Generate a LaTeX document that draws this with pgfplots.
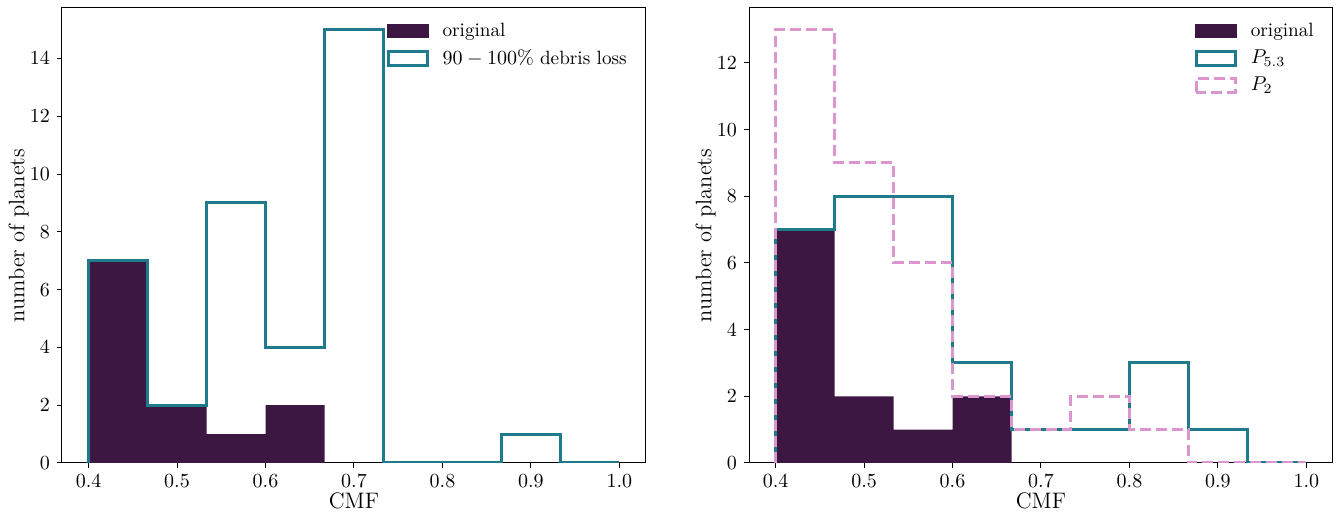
\documentclass[border=0pt]{standalone}
\usepackage{pgfplots}
\pgfplotsset{compat=1.18}

\definecolor{orig}{HTML}{3C1742}
\definecolor{tealc}{HTML}{1F7A8C}
\definecolor{pinkc}{HTML}{DA96CD}

\pgfplotsset{
  histax/.style={
    scale only axis,
    width=292pt, height=227.5pt,
    xmin=0.37, xmax=1.03, ymin=0,
    xtick={0.4,0.5,0.6,0.7,0.8,0.9,1.0},
    xticklabel style={/pgf/number format/.cd, fixed, fixed zerofill, precision=1},
    tick align=outside, tick pos=left,
    major tick length=2.5pt,
    every tick/.style={black, line width=0.5pt},
    axis line style={black, line width=0.5pt},
    ticklabel style={font=\fontsize{9.8}{11}\selectfont},
    label style={font=\fontsize{11.2}{13}\selectfont},
    xlabel={CMF},
    ylabel={number of planets},
    xlabel style={at={(axis description cs:0.5,-0.084)}, anchor=center},
    ylabel style={at={(axis description cs:-0.074,0.5)}, anchor=center},
    legend style={draw=none, fill=none, font=\fontsize{9.6}{11}\selectfont,
      at={(0.985,0.985)}, anchor=north east, row sep=1.2pt},
    legend cell align=left,
  },
  % legend symbols: 21pt wide boxes, plus a gap before the text
  origleg/.style={legend image code/.code={
    \fill[orig] (0pt,-3.5pt) rectangle (21pt,3.5pt);
    \path[draw=none, fill=none] (0pt,0pt) -- (26pt,0pt);}},
  tealleg/.style={legend image code/.code={
    \draw[tealc, line width=1.5pt, fill=none] (0.75pt,-3.5pt) rectangle (20.25pt,3.5pt);
    \path[draw=none, fill=none] (0pt,0pt) -- (26pt,0pt);}},
  pinkleg/.style={legend image code/.code={
    \draw[pinkc, line width=1.5pt, fill=none, dash pattern=on 5.5pt off 2.5pt] (0.75pt,-3.5pt) rectangle (20.25pt,3.5pt);
    \path[draw=none, fill=none] (0pt,0pt) -- (26pt,0pt);}},
}

\begin{document}
\begin{tikzpicture}
% fix page size: 1340 x 514 px at 0.5pt per px
\path (-31pt,-25.5pt) rectangle (639pt,231.5pt);

\begin{axis}[histax, ymax=15.75, ytick={0,2,4,6,8,10,12,14}]
\addplot[const plot, fill=orig, draw=none, origleg]
coordinates {(0.4,7) (0.46667,2) (0.53333,1) (0.6,2) (0.66667,2)} \closedcycle;
\addlegendentry{original}
\addplot[const plot, tealc, line width=1.5pt, tealleg]
coordinates {
(0.4,0) (0.4,7) (0.46667,2) (0.53333,9) (0.6,4) (0.66667,15)
(0.73333,0) (0.8,0) (0.86667,1) (0.93333,0) (1.0,0)
};
\addlegendentry{$90-100\%$ debris loss}
\end{axis}

\begin{axis}[histax, xshift=343.5pt, ymax=13.65, ytick={0,2,4,6,8,10,12}]
\addplot[const plot, fill=orig, draw=none, origleg]
coordinates {(0.4,7) (0.46667,2) (0.53333,1) (0.6,2) (0.66667,2)} \closedcycle;
\addlegendentry{original}
\addplot[const plot, tealc, line width=1.5pt, tealleg]
coordinates {
(0.4,0) (0.4,7) (0.46667,8) (0.53333,8) (0.6,3) (0.66667,1)
(0.73333,1) (0.8,3) (0.86667,1) (0.93333,0) (1.0,0)
};
\addlegendentry{$P_{5.3}$}
\addplot[const plot, pinkc, line width=1.5pt, dash pattern=on 5.5pt off 2.5pt, pinkleg]
coordinates {
(0.4,0) (0.4,13) (0.46667,9) (0.53333,6) (0.6,2) (0.66667,1)
(0.73333,2) (0.8,1) (0.86667,0) (0.93333,0) (1.0,0)
};
\addlegendentry{$P_2$}
\end{axis}
\end{tikzpicture}
\end{document}
